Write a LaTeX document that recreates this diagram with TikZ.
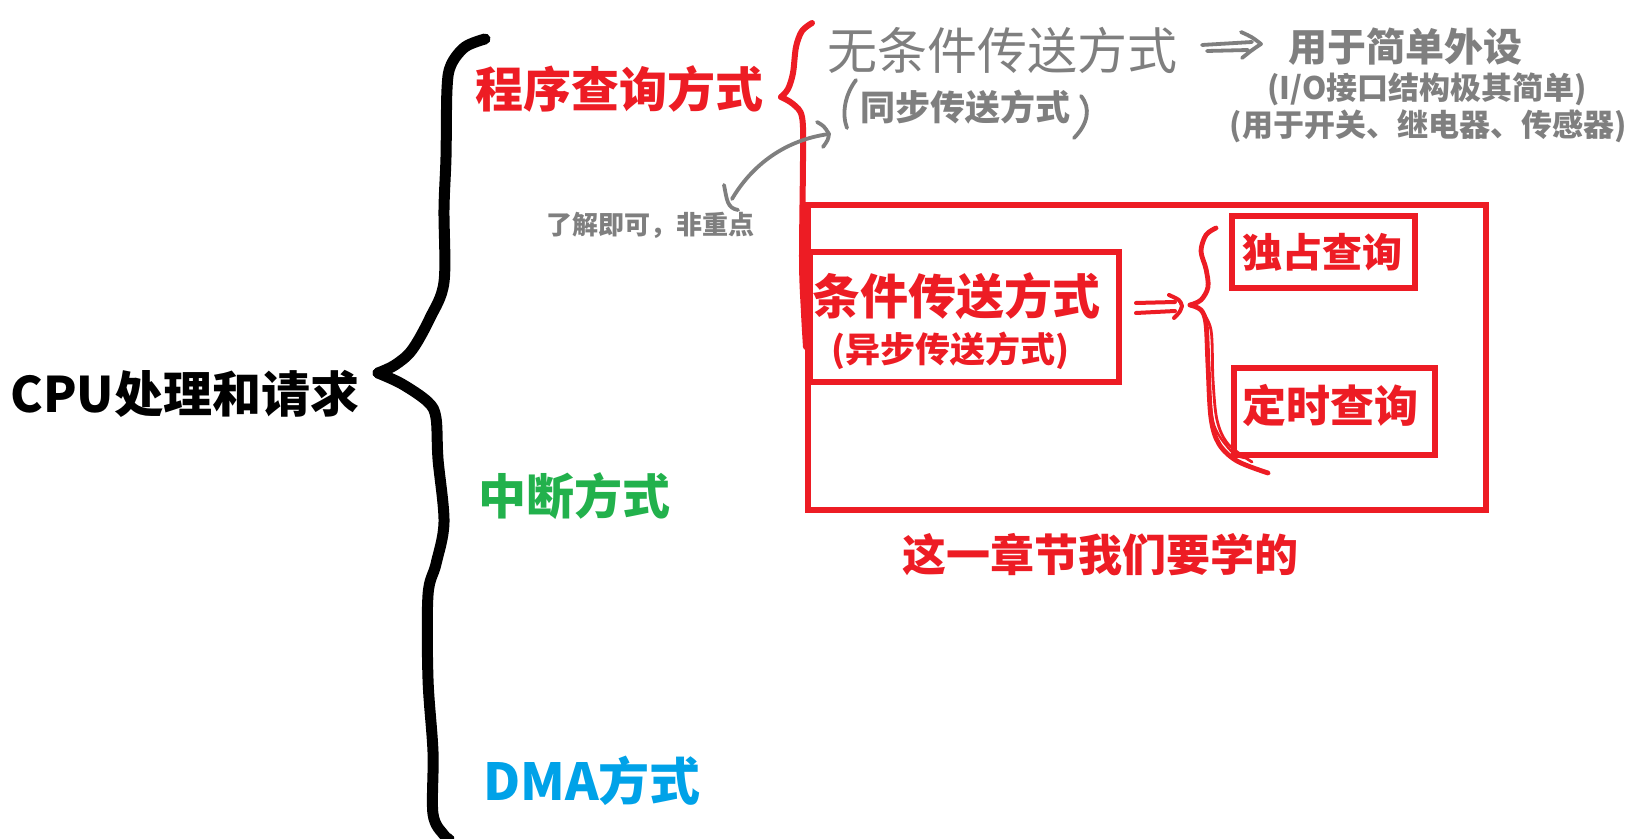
\documentclass[tikz,border=0pt]{standalone}
\usepackage{fontspec}
\setmainfont{Noto Sans CJK SC}
\definecolor{pred}{HTML}{ED1C24}
\definecolor{pgreen}{HTML}{22B14C}
\definecolor{pblue}{HTML}{00A2E8}
\definecolor{pgray}{HTML}{7F7F7F}
\tikzset{
  txt/.style={inner sep=0pt, font=\bfseries},
  blackbrace/.style={line width=5.5pt, line cap=round, line join=round, black},
  redstroke/.style={line width=3pt, line cap=round, line join=round, pred},
  graystroke/.style={line width=1.9pt, line cap=round, line join=round, pgray},
  redbox/.style={draw=pred, line width=3pt}
}
\newcommand{\fsz}[1]{\fontsize{#1}{#1}\selectfont}
\begin{document}
\begin{tikzpicture}[x=0.5pt,y=-0.5pt]
\useasboundingbox[fill=white] (0,0) rectangle (1637,839);

% main label
\node[txt, anchor=west, font=\bfseries\fsz{24.5}] (cpu) at (10,394) {CPU处理和请求};

% big black brace
\draw[blackbrace] plot[smooth, tension=0.55] coordinates {(485,39) (465,47) (451,65) (447,89) (446,157) (444,209) (444,282) (430,318) (412,350) (395,365) (378,373)};
\draw[blackbrace] plot[smooth, tension=0.55] coordinates {(378,373) (402,384) (428,402) (436,418) (438,459) (444,522) (436,564) (428,595) (428,679) (433,752) (433,814) (444,835) (449,839)};

% three methods
\node[txt, anchor=west, text=pred, font=\bfseries\fsz{24}] (prog) at (475,89) {程序查询方式};
\node[txt, anchor=west, text=pgreen, font=\bfseries\fsz{24}] (intr) at (478,496) {中断方式};
\node[txt, anchor=west, text=pblue, font=\bfseries\fsz{25.5}] (dma) at (483,781) {DMA方式};

% red brace after 程序查询方式
\draw[redstroke] plot[smooth, tension=0.55] coordinates {(812,23) (802,31) (796,47) (793,73) (788,89) (781,97)};
\draw[redstroke] plot[smooth, tension=0.55] coordinates {(781,97) (793,104) (802,117) (803,157) (802,261) (804,313) (806,347)};

% unconditional transfer (handwritten look)
\node[inner sep=0pt, anchor=west, text=pgray, font=\fsz{25}] (uncond) at (827,50) {无条件传送方式};
\node[txt, anchor=west, text=pgray, font=\bfseries\fsz{17.5}] (sync) at (860,107) {同步传送方式};
\draw[graystroke] (856,80) .. controls (844,96) and (842,115) .. (847,128);
\draw[graystroke] (1081,96) .. controls (1091,108) and (1088,124) .. (1074,138);

% arrow to 用于简单外设
\coordinate (ua1) at (1202,45);
\draw[graystroke] (ua1) -- (1252,42);
\draw[graystroke] (1207,51) -- (1248,50);
\draw[graystroke] (1241,32) .. controls (1252,37) .. (1261,44) .. controls (1252,50) .. (1242,58);

\node[txt, anchor=west, text=pgray, font=\bfseries\fsz{19.5}] (simple) at (1288,47) {用于简单外设};
\node[txt, text=pgray, font=\bfseries\fsz{15.5}] (io) at (1427,89) {(I/O接口结构极其简单)};
\node[txt, text=pgray, font=\bfseries\fsz{15.5}] (use) at (1428,126) {(用于开关、继电器、传感器)};

% note and curved arrow
\node[txt, text=pgray, font=\bfseries\fsz{13}] (note) at (650,225) {了解即可，非重点};
\draw[graystroke] (724,185) .. controls (727,200) and (727,208) .. (738,210);
\coordinate (ntip) at (829,134);
\draw[graystroke] (732,199) .. controls (752,165) and (785,140) .. (ntip);
\draw[graystroke] (817,122) .. controls (824,126) .. (ntip) .. controls (828,140) .. (823,147);

% big red box
\draw[redbox] (808,205) rectangle (1486,510);

% conditional transfer box
\draw[redbox] (810,252) rectangle (1119,382);
\node[txt, anchor=west, text=pred, font=\bfseries\fsz{24}] (cond) at (812,296) {条件传送方式};
\node[txt, text=pred, font=\bfseries\fsz{17.5}] (async) at (950,351) {(异步传送方式)};

% double arrow
\draw[redstroke, line width=2pt] (1136,303) -- (1175,302);
\draw[redstroke, line width=2pt] (1136,313) -- (1175,311);
\draw[redstroke, line width=2pt] (1169,295) .. controls (1180,300) .. (1182,306) .. controls (1180,312) .. (1174,318);

% small red brace
\draw[redstroke, line width=2.4pt] plot[smooth, tension=0.55] coordinates {(1216,228) (1206,235) (1201,251) (1206,269) (1208,287) (1201,300) (1190,305)};
\draw[redstroke, line width=2.4pt] plot[smooth, tension=0.55] coordinates {(1190,305) (1201,310) (1206,324) (1208,365) (1211,418) (1219,444) (1237,461) (1268,473)};
\draw[redstroke, line width=1.4pt] plot[smooth, tension=0.55] coordinates {(1201,310) (1211,330) (1213,380) (1217,420) (1228,444) (1252,462)};
\draw[redstroke, line width=1.2pt] plot[smooth, tension=0.55] coordinates {(1206,330) (1209,380) (1214,425) (1232,452) (1245,458)};

% sub-boxes
\draw[redbox] (1232,216) rectangle (1415,288);
\node[txt, text=pred, font=\bfseries\fsz{20}] (excl) at (1322,252) {独占查询};
\draw[redbox] (1234,368) rectangle (1435,455);
\node[txt, text=pred, font=\bfseries\fsz{22}] (timed) at (1330,406) {定时查询};

% caption
\node[txt, text=pred, font=\bfseries\fsz{22}] (cap) at (1100,555) {这一章节我们要学的};
\end{tikzpicture}
\end{document}
